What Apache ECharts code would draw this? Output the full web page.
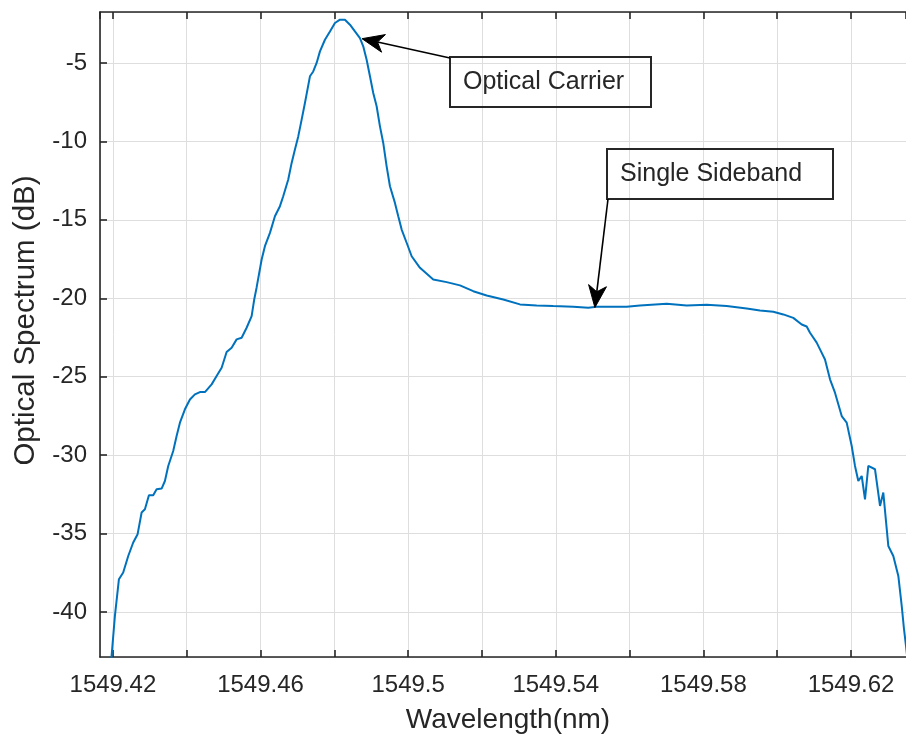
<!DOCTYPE html>
<html>
<head>
<meta charset="utf-8">
<script src="https://cdn.jsdelivr.net/npm/echarts@6/dist/echarts.min.js"></script>
<style>
  html, body { margin: 0; padding: 0; background: #ffffff; }
  #chart { width: 906px; height: 739px; }
</style>
</head>
<body>
<div id="chart"></div>
<script>
// Measured optical spectrum: wavelength (nm) and power (dB)
const wavelength = [
  1549.41946, 1549.42054, 1549.42163, 1549.42279, 1549.42415, 1549.42550, 1549.42669, 1549.42778,
  1549.42867, 1549.42976, 1549.43092, 1549.43184, 1549.43320, 1549.43409, 1549.43499, 1549.43634,
  1549.43726, 1549.43816, 1549.43951, 1549.44087, 1549.44222, 1549.44358, 1549.44493, 1549.44675,
  1549.44810, 1549.44946, 1549.45081, 1549.45217, 1549.45352, 1549.45488, 1549.45623, 1549.45759,
  1549.45829, 1549.45894, 1549.46030, 1549.46119, 1549.46255, 1549.46390, 1549.46526, 1549.46615,
  1549.46751, 1549.46843, 1549.46932, 1549.47022, 1549.47114, 1549.47203, 1549.47339, 1549.47428,
  1549.47520, 1549.47610, 1549.47745, 1549.47881, 1549.48016, 1549.48152, 1549.48287, 1549.48423,
  1549.48558, 1549.48694, 1549.48783, 1549.48875, 1549.48965, 1549.49054, 1549.49146, 1549.49236,
  1549.49325, 1549.49417, 1549.49507, 1549.49642, 1549.49732, 1549.49824, 1549.49959, 1549.50095,
  1549.50320, 1549.50680, 1549.51043, 1549.51404, 1549.51764, 1549.52127, 1549.52577, 1549.53030,
  1549.53482, 1549.53932, 1549.54474, 1549.54881, 1549.55108, 1549.55558, 1549.55921, 1549.56282,
  1549.57005, 1549.57547, 1549.58089, 1549.58631, 1549.59173, 1549.59534, 1549.59894, 1549.60165,
  1549.60436, 1549.60664, 1549.60799, 1549.60889, 1549.61070, 1549.61160, 1549.61295, 1549.61431,
  1549.61566, 1549.61748, 1549.61883, 1549.62019, 1549.62108, 1549.62198, 1549.62290, 1549.62379,
  1549.62469, 1549.62650, 1549.62786, 1549.62875, 1549.63011, 1549.63146, 1549.63282, 1549.63374,
  1549.63436, 1549.63490, 1549.63545
];
const spectrum = [
  -43.32, -40.25, -37.91, -37.48, -36.43, -35.57, -35.04, -33.66,
  -33.45, -32.56, -32.56, -32.18, -32.13, -31.65, -30.69, -29.74,
  -28.78, -27.93, -27.08, -26.45, -26.13, -25.98, -25.98, -25.49,
  -24.96, -24.43, -23.43, -23.15, -22.62, -22.52, -21.88, -21.14,
  -20.08, -19.31, -17.53, -16.68, -15.83, -14.77, -14.13, -13.50,
  -12.43, -11.37, -10.52, -9.68, -8.61, -7.55, -5.85, -5.54,
  -5.00, -4.26, -3.52, -2.99, -2.45, -2.24, -2.24, -2.56,
  -2.99, -3.41, -3.94, -4.79, -5.85, -6.91, -7.76, -9.04,
  -10.10, -11.59, -12.86, -13.92, -14.77, -15.62, -16.46, -17.32,
  -18.06, -18.80, -18.97, -19.18, -19.55, -19.82, -20.08, -20.39,
  -20.46, -20.50, -20.54, -20.61, -20.54, -20.54, -20.54, -20.46,
  -20.35, -20.46, -20.41, -20.50, -20.65, -20.78, -20.86, -21.03,
  -21.25, -21.67, -21.80, -22.20, -22.83, -23.26, -23.90, -25.17,
  -26.02, -27.51, -27.93, -29.42, -30.69, -31.65, -31.33, -32.82,
  -30.69, -30.90, -33.24, -32.39, -35.79, -36.43, -37.70, -39.61,
  -41.10, -42.16, -43.32
];

// Axis extents
const xRange = [1549.4165, 1549.6349];
const yRange = [-42.87, -1.75];

// Callout labels and the spectrum points they point at
const calloutText = ['Optical Carrier', 'Single Sideband'];
const calloutTarget = [[1549.4875, -3.45], [1549.5506, -20.59]];

const FONT = '"Liberation Sans", Arial, Helvetica, sans-serif';
const INK = '#262626';
const GRID = '#dedede';

const chart = echarts.init(document.getElementById('chart'), null, { renderer: 'canvas' });

// label every second grid line (0.04 nm steps)
function xLabel(v) {
  const k = Math.round(v * 100);
  if (Math.abs(v * 100 - k) > 1e-6) return '';
  return (k % 4 === 2) ? String(+(k / 100).toFixed(2)) : '';
}

chart.setOption({
  animation: false,
  backgroundColor: '#ffffff',
  grid: { left: 100, top: 12, right: 0, bottom: 81, containLabel: false },
  xAxis: [
    {
      type: 'value',
      position: 'bottom',
      min: xRange[0], max: xRange[1],
      splitNumber: 11,
      name: 'Wavelength(nm)',
      nameLocation: 'middle',
      nameGap: 49,
      nameTextStyle: { color: INK, fontFamily: FONT, fontSize: 28, padding: [0, 0, 0, 10] },
      axisLine: { show: true, onZero: false, lineStyle: { color: INK, width: 1.6 } },
      axisTick: { show: true, inside: true, length: 7, lineStyle: { color: INK, width: 1.6 } },
      axisLabel: {
        show: true, margin: 16, color: INK, fontFamily: FONT, fontSize: 24,
        showMinLabel: false, showMaxLabel: false, formatter: xLabel
      },
      splitLine: { show: true, lineStyle: { color: GRID, width: 1 } }
    },
    {
      type: 'value',
      position: 'top',
      min: xRange[0], max: xRange[1],
      splitNumber: 11,
      axisLine: { show: true, onZero: false, lineStyle: { color: INK, width: 1.6 } },
      axisTick: { show: true, inside: true, length: 7, lineStyle: { color: INK, width: 1.6 } },
      axisLabel: { show: false },
      splitLine: { show: false }
    }
  ],
  yAxis: {
    type: 'value',
    min: yRange[0], max: yRange[1],
    splitNumber: 8,
    name: 'Optical Spectrum (dB)',
    nameLocation: 'middle',
    nameGap: 59,
    nameTextStyle: { color: INK, fontFamily: FONT, fontSize: 29.5, padding: [0, 0, 0, 28] },
    axisLine: { show: true, onZero: false, lineStyle: { color: INK, width: 1.6 } },
    axisTick: { show: true, inside: true, length: 7, lineStyle: { color: INK, width: 1.6 } },
    axisLabel: {
      show: true, margin: 13, color: INK, fontFamily: FONT, fontSize: 24,
      showMinLabel: false, showMaxLabel: false
    },
    splitLine: { show: true, lineStyle: { color: GRID, width: 1 } }
  },
  series: [{
    type: 'line',
    xAxisIndex: 0,
    yAxisIndex: 0,
    data: wavelength.map((w, i) => [w, spectrum[i]]),
    showSymbol: false,
    symbol: 'none',
    clip: true,
    lineStyle: { color: '#0072BD', width: 2 },
    z: 3
  }]
});

// Callout boxes and arrows, tips anchored to spectrum coordinates
const boxes = [
  { x: 450, y: 57, w: 201, h: 50, tail: 'topLeft' },
  { x: 607, y: 149, w: 226, h: 50, tail: 'bottomLeft' }
];

function arrowHead(tip, tail, len, half) {
  const dx = tail[0] - tip[0], dy = tail[1] - tip[1];
  const d = Math.hypot(dx, dy);
  const ux = dx / d, uy = dy / d, px = -uy, py = ux;
  const back = [tip[0] + ux * len, tip[1] + uy * len];
  const notch = [tip[0] + ux * len * 0.72, tip[1] + uy * len * 0.72];
  return {
    head: [tip, [back[0] + px * half, back[1] + py * half], notch, [back[0] - px * half, back[1] - py * half]],
    notch: notch
  };
}

const elements = [];
boxes.forEach((b, i) => {
  const tip = chart.convertToPixel({ xAxisIndex: 0, yAxisIndex: 0 }, calloutTarget[i]);
  const tail = b.tail === 'topLeft' ? [b.x, b.y + 1] : [b.x + 1, b.y + b.h];
  const a = arrowHead(tip, tail, 22, 9);
  elements.push({
    type: 'rect', z: 10,
    shape: { x: b.x, y: b.y, width: b.w, height: b.h },
    style: { fill: 'rgba(0,0,0,0)', stroke: INK, lineWidth: 2 }
  });
  elements.push({
    type: 'text', z: 11,
    x: b.x + 13, y: b.y + b.h / 2,
    style: { text: calloutText[i], fill: INK, font: '25px ' + FONT, verticalAlign: 'middle', align: 'left' }
  });
  elements.push({
    type: 'line', z: 10,
    shape: { x1: tail[0], y1: tail[1], x2: a.notch[0], y2: a.notch[1] },
    style: { stroke: '#000000', lineWidth: 1.6 }
  });
  elements.push({
    type: 'polygon', z: 11,
    shape: { points: a.head },
    style: { fill: '#000000', stroke: '#000000', lineWidth: 1 }
  });
});
chart.setOption({ graphic: elements });
</script>
</body>
</html>
